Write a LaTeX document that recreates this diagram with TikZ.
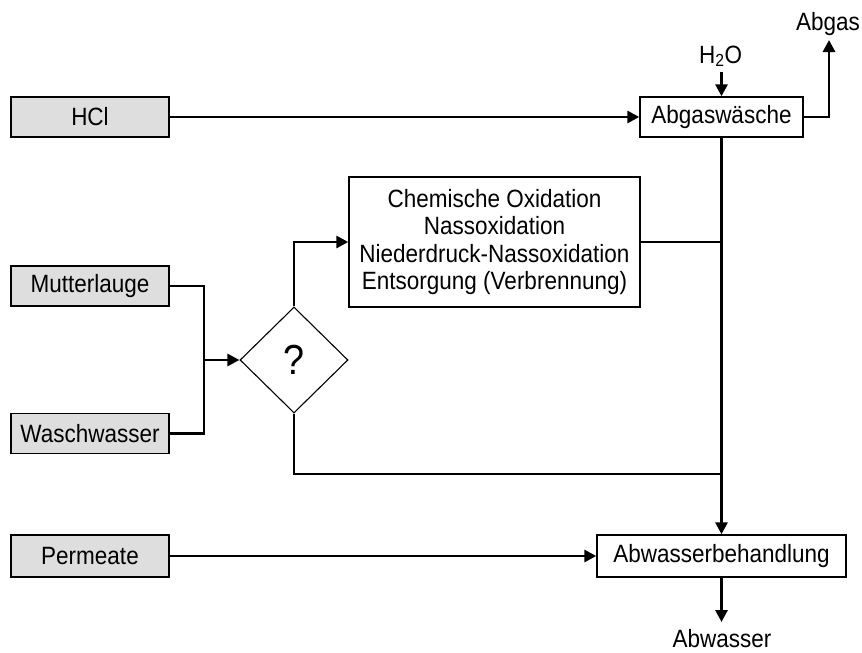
\documentclass[tikz,border=0pt]{standalone}
\usepackage{fontspec}
\setmainfont{Liberation Sans}[FakeStretch=0.9]
\usetikzlibrary{arrows.meta,shapes.geometric}
\definecolor{srcgray}{HTML}{DEDEDE}
\begin{document}
\begin{tikzpicture}[x=1pt,y=-1pt,
  box/.style={draw=black, line width=1.4pt, inner sep=0pt, fill=white,
    font=\fontsize{25}{27.5}\selectfont, align=center},
  src/.style={box, fill=srcgray, minimum width=158pt, minimum height=40pt},
  conn/.style={line width=2.9pt},
  arr/.style={conn, -{Triangle[length=12pt,width=12pt]}},
  lbl/.style={font=\fontsize{25}{27}\selectfont, inner sep=0pt}]
\useasboundingbox[fill=white] (0,0) rectangle (862,653);

% source boxes
\node[src] (hcl) at (90,117) {HCl};
\node[src] (mut) at (90,286) {Mutterlauge};
\node[src] (wsw) at (90,433.5) {Waschwasser};
\node[src, minimum height=42pt] (per) at (90,556) {Permeate};

% process boxes
\node[box, minimum width=163pt, minimum height=40pt] (abg) at (721.5,117) {Abgaswäsche};
\node[box, minimum width=291pt, minimum height=130pt] (chem) at (494.5,242)
  {Chemische Oxidation\\Nassoxidation\\Niederdruck-Nassoxidation\\Entsorgung (Verbrennung)};
\node[box, minimum width=249pt, minimum height=42pt] (abw) at (721.5,556) {Abwasserbehandlung};
\node[diamond, draw, line width=1.1pt, minimum width=108pt, minimum height=106pt,
  inner sep=0pt, font=\fontsize{42}{44}\selectfont] (dia) at (294,360) {?};

% labels
\node[lbl, anchor=base] (h2o) at (720.5,63) {H\textsubscript{2}O};
\node[lbl, anchor=base] (abgastxt) at (828,30) {Abgas};
\node[lbl, anchor=base] (abwtxt) at (722,647) {Abwasser};

% coordinates
\coordinate (h2oend) at (721.5,72);
\coordinate (abgasend) at (829,40);
\coordinate (jA) at (721.5,242);
\coordinate (jB) at (721.5,474);
\coordinate (jn) at (204,360);
\coordinate (abwend) at (721.5,622);

% connectors
\draw[arr] (hcl) -- (abg);
\draw[arr] (h2oend) -- (abg.north);
\draw[arr] (abg.east) -| (abgasend);
\draw[arr] (abg.south) -- (abw.north);
\draw[conn] (chem.east) -- (jA);
\draw[conn] (mut.east) -| (jn) |- (wsw.east);
\draw[arr] (jn) -- (dia.west);
\draw[arr] (dia.north) |- (chem.west);
\draw[conn] (dia.south) |- (jB);
\draw[arr] (per) -- (abw);
\draw[arr] (abw.south) -- (abwend);
\end{tikzpicture}
\end{document}
